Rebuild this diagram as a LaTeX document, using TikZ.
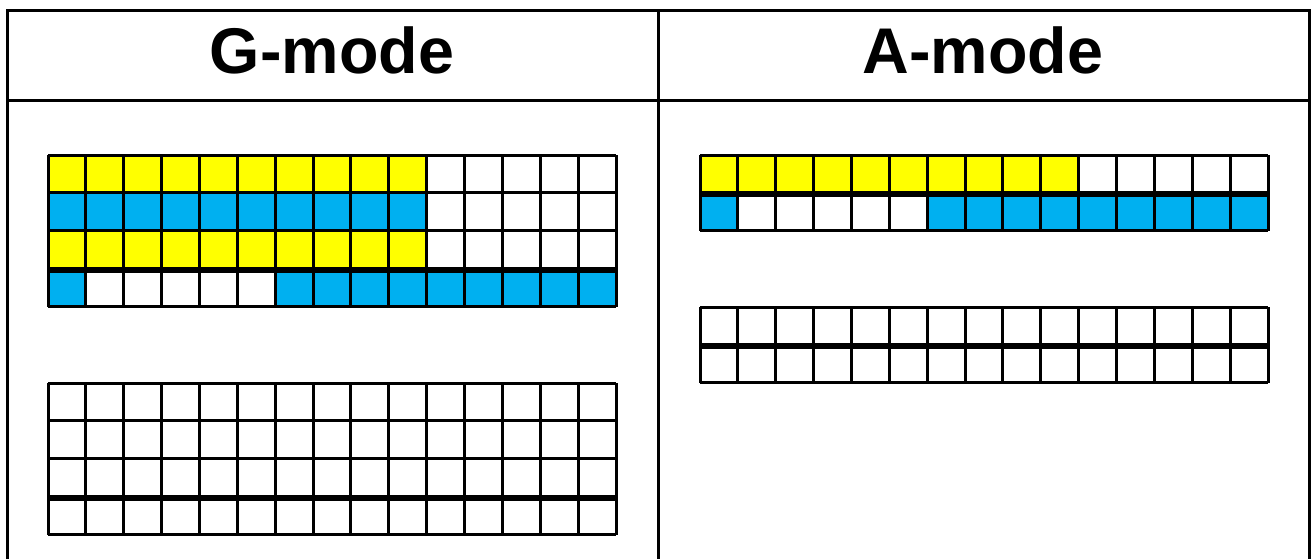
\documentclass[tikz,border=0pt]{standalone}
\usepackage{fontspec}
\setmainfont{Liberation Sans}
\definecolor{cellyellow}{RGB}{255,255,0}
\definecolor{cellblue}{RGB}{0,176,240}
\tikzset{
  frame line/.style={line width=1.5pt},
  cell line/.style={line width=1.5pt},
  sep line/.style={line width=2.8pt},
  head/.style={font=\fontsize{32.3}{39}\selectfont\bfseries}
}
% one block of cells: x, y (top left), number of rows, row of the thick line
\newcommand{\cellblock}[4]{%
  \foreach \i in {0,...,15}
    \draw[cell line] ({#1+\i*37.87},#2) -- ++(0,{#3*37.9});
  \foreach \j in {0,...,#3}
    \draw[cell line] (#1,{#2+\j*37.9}) -- ++(568,0);
  \draw[sep line] (#1,{#2+#4*37.9+1.5}) -- ++(568,0);
}
\begin{document}
\begin{tikzpicture}[x=0.5pt, y=-0.5pt]
  \useasboundingbox (0,0) rectangle (1311,559);
  % table
  \draw[frame line] (7,559) -- (7,10) -- (1309,10) -- (1309,559);
  \draw[frame line] (7,100) -- (1309,100);
  \draw[frame line] (658,10) -- (658,559);
  \node[head] (gmode) at (332,50) {G-mode};
  \node[head] (amode) at (983,50) {A-mode};
  % G-mode, filled block
  \fill[cellyellow] (48,155) rectangle ++({10*37.87},37.9);
  \fill[cellblue] (48,192.9) rectangle ++({10*37.87},37.9);
  \fill[cellyellow] (48,230.8) rectangle ++({10*37.87},37.9);
  \fill[cellblue] (48,268.7) rectangle ++(37.87,37.9);
  \fill[cellblue] ({48+6*37.87},268.7) rectangle (616,306.6);
  \cellblock{48}{155}{4}{3}
  % G-mode, empty block
  \cellblock{48}{383}{4}{3}
  % A-mode, filled block
  \fill[cellyellow] (700,155) rectangle ++({10*37.87},37.9);
  \fill[cellblue] (700,192.9) rectangle ++(37.87,37.9);
  \fill[cellblue] ({700+6*37.87},192.9) rectangle (1268,230.8);
  \cellblock{700}{155}{2}{1}
  % A-mode, empty block
  \cellblock{700}{307}{2}{1}
\end{tikzpicture}
\end{document}
